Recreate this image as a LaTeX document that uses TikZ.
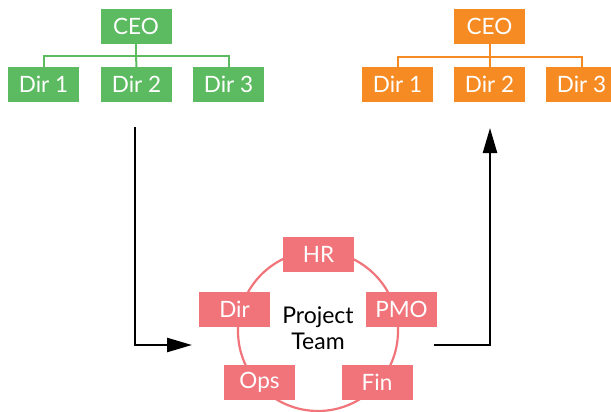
\documentclass[tikz,border=0pt]{standalone}
\usepackage{fontspec}
\setmainfont{Lato}
\usetikzlibrary{arrows.meta}
\definecolor{cgreen}{RGB}{92,186,96}
\definecolor{corange}{RGB}{246,139,35}
\definecolor{cpink}{RGB}{240,116,122}
\tikzset{
  box/.style={minimum width=71pt,minimum height=35pt,inner sep=0pt,text=white,font=\fontsize{22.5}{26}\selectfont},
  gbox/.style={box,fill=cgreen},
  obox/.style={box,fill=corange},
  pbox/.style={box,fill=cpink},
  gline/.style={draw=cgreen,line width=2pt},
  oline/.style={draw=corange,line width=2pt},
  flow/.style={draw=black,line width=2.4pt,-{Triangle[length=25pt,width=14pt]}}
}
\begin{document}
\begin{tikzpicture}[x=1pt,y=-1pt]
\useasboundingbox (0,0) rectangle (611,412);
\clip (0,0) rectangle (611,412);
% green org chart
\node[gbox] (gceo) at (136,26.5) {CEO};
\node[gbox] (g1) at (43.5,84.5) {Dir 1};
\node[gbox] (g2) at (136.5,84.5) {Dir 2};
\node[gbox] (g3) at (228.5,84.5) {Dir 3};
\draw[gline] (gceo.south) -- (gceo.south |- 0,56) coordinate (gbus);
\draw[gline] (g1.north) |- (gbus) -| (g3.north);
\draw[gline] (gbus) -- (g2.north);
% orange org chart
\node[obox] (oceo) at (489.5,26.5) {CEO};
\node[obox] (o1) at (397.5,84.5) {Dir 1};
\node[obox] (o2) at (489.5,84.5) {Dir 2};
\node[obox] (o3) at (581.5,84.5) {Dir 3};
\draw[oline] (oceo.south) -- (oceo.south |- 0,57) coordinate (obus);
\draw[oline] (o1.north) |- (obus) -| (o3.north);
\draw[oline] (obus) -- (o2.north);
% project team
\node[draw=cpink,line width=2.2pt,circle,minimum size=160pt,inner sep=0pt] (ring) at (318,331) {};
\node[font=\fontsize{23}{26}\selectfont,align=center,text=black] (pt) at (318,328) {Project\\Team};
\node[pbox] (hr) at (318.5,254.5) {HR};
\node[pbox] (dir) at (234.5,309) {Dir};
\node[pbox] (pmo) at (401.5,309) {PMO};
\node[pbox] (ops) at (259.5,382.5) {Ops};
\node[pbox] (fin) at (377,382.5) {Fin};
% flow arrows
\coordinate (a1) at (135,127);
\coordinate (a2) at (192,345);
\coordinate (b1) at (434,345);
\coordinate (b2) at (490,128);
\draw[flow] (a1) |- (a2);
\draw[flow] (b1) -| (b2);
\end{tikzpicture}
\end{document}
